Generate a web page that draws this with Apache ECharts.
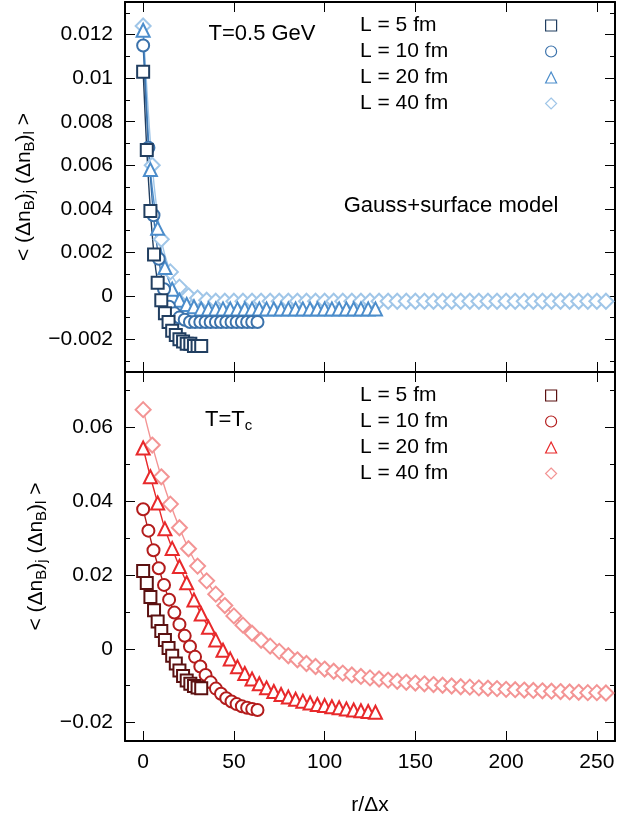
<!DOCTYPE html>
<html><head><meta charset="utf-8">
<script src="https://cdn.jsdelivr.net/npm/echarts@6/dist/echarts.min.js"></script>
<style>html,body{margin:0;padding:0;background:#fff}#c{width:618px;height:825px}</style>
</head><body><div id="c"></div>
<script>
// ---------- data ----------
const xL5  = [0,2,4,6,8,10,12,14,16,18,20,22,24,26,28,30,32];
const xL10 = [0,2.9,5.7,8.6,11.5,14.3,17.2,20,22.9,25.8,28.6,31.5,34.4,37.2,40.1,42.9,45.8,48.7,51.5,54.4,57.3,60.1,63];
const xL20 = [0,4,8,12,16,20,24,28,32,36,40,44,48,52,56,60,64,68,72,76,80,84,88,92,96,100,104,108,112,116,120,124,128];
const xL40 = [0,5,10,15,20,25,30,35,40,45,50,55,60,65,70,75,80,85,90,95,100,105,110,115,120,125,130,135,140,145,150,155,160,165,170,175,180,185,190,195,200,205,210,215,220,225,230,235,240,245,250,255];

// top panel: T = 0.5 GeV
const topL5  = [0.0103,0.0067,0.0039,0.0019,0.0006,-0.0002,-0.0008,-0.0012,-0.0016,-0.0018,-0.0020,-0.0021,-0.0022,-0.0022,-0.0023,-0.0023,-0.0023];
const topL10 = [0.0115,0.0068,0.0037,0.0017,0.0003,-0.0005,-0.0008,-0.0010,-0.0011,-0.0012,-0.0012,-0.0012,-0.0012,-0.0012,-0.0012,-0.0012,-0.0012,-0.0012,-0.0012,-0.0012,-0.0012,-0.0012,-0.0012];
const topL20 = [0.0122,0.0058,0.0031,0.0013,0.0003,-0.0002,-0.0004,-0.0005,-0.0006,-0.0006,-0.0006,-0.0006,-0.0006,-0.0006,-0.0006,-0.0006,-0.0006,-0.0006,-0.0006,-0.0006,-0.0006,-0.0006,-0.0006,-0.0006,-0.0006,-0.0006,-0.0006,-0.0006,-0.0006,-0.0006,-0.0006,-0.0006,-0.0006];
const topL40 = [0.0124,0.0060,0.0026,0.0011,0.0004,0.0000,-0.0001,-0.0002,-0.00025,-0.00025,-0.00025,-0.00025,-0.00025,-0.00025,-0.00025,-0.00025,-0.00025,-0.00025,-0.00025,-0.00025,-0.00025,-0.00025,-0.00025,-0.00025,-0.00025,-0.00025,-0.00025,-0.00025,-0.00025,-0.00025,-0.00025,-0.00025,-0.00025,-0.00025,-0.00025,-0.00025,-0.00025,-0.00025,-0.00025,-0.00025,-0.00025,-0.00025,-0.00025,-0.00025,-0.00025,-0.00025,-0.00025,-0.00025,-0.00025,-0.00025,-0.00025,-0.00025];

// bottom panel: T = Tc
const botL5  = [0.0211,0.0178,0.0140,0.0104,0.0074,0.0048,0.0024,0.0002,-0.0019,-0.0040,-0.0059,-0.0074,-0.0086,-0.0095,-0.0101,-0.0105,-0.0107];
const botL10 = [0.0378,0.0320,0.0267,0.0218,0.0173,0.0133,0.0098,0.0066,0.0035,0.0006,-0.0022,-0.0048,-0.0071,-0.0091,-0.0108,-0.0122,-0.0134,-0.0143,-0.0150,-0.0156,-0.0160,-0.0163,-0.0166];
const botL20 = [0.0544,0.0466,0.0395,0.0325,0.0272,0.0223,0.0179,0.0132,0.0094,0.0058,0.0024,-0.0004,-0.0028,-0.0049,-0.0067,-0.0082,-0.0095,-0.0106,-0.0116,-0.0124,-0.0131,-0.0137,-0.0142,-0.0147,-0.0151,-0.0154,-0.0157,-0.0160,-0.0163,-0.0166,-0.0168,-0.0170,-0.0172];
const botL40 = [0.0648,0.0552,0.0466,0.0392,0.0328,0.0271,0.0224,0.0184,0.0148,0.0117,0.0089,0.0064,0.0042,0.0023,0.0007,-0.0007,-0.0019,-0.0030,-0.0040,-0.0048,-0.0055,-0.0061,-0.0066,-0.0071,-0.0075,-0.0079,-0.0082,-0.0085,-0.0088,-0.0091,-0.0093,-0.0095,-0.0097,-0.0099,-0.0101,-0.0103,-0.0104,-0.0106,-0.0107,-0.0108,-0.0110,-0.0111,-0.0112,-0.0113,-0.0114,-0.0115,-0.0116,-0.0117,-0.0118,-0.0119,-0.0119,-0.0120];

// ticks / labels
const xTicks     = [0,50,100,150,200,250];
const topYTicks  = [-0.002,0,0.002,0.004,0.006,0.008,0.01,0.012];
const topYMinor  = [-0.003,-0.001,0.001,0.003,0.005,0.007,0.009,0.011,0.013];
const botYTicks  = [-0.02,0,0.02,0.04,0.06];
const botYMinor  = [-0.01,0.01,0.03,0.05,0.07];
const legendLabels = ['L = 5 fm','L = 10 fm','L = 20 fm','L = 40 fm'];
const xName = 'r/Δx';
const yName = '< (Δn{s|B}){s|j} (Δn{s|B}){s|l} >';
const topTitle = 'T=0.5 GeV';
const modelText = 'Gauss+surface model';
const botTitle = 'T=T{c|c}';

// ---------- style ----------
const FONT = '"Liberation Sans", Arial, Helvetica, sans-serif';
const FS = 21;
const topColors = ['#213e60','#3b72ab','#4c8dcb','#a0c6e8'];
const botColors = ['#5b1111','#b31c1c','#e8292b','#f39494'];
const symbols = ['emptyRect','emptyCircle','emptyTriangle','emptyDiamond'];
const legendIcons = ['rect','circle','triangle','diamond'];
const symbolSizes = [12,12,13,15];

const xs = [xL5, xL10, xL20, xL40];
const topYs = [topL5, topL10, topL20, topL40];
const botYs = [botL5, botL10, botL20, botL40];
const zip = (a, b) => a.map((v, i) => [v, b[i]]);
const fmt = v => (v < 0 ? '\u2212' + String(-v) : String(v));

function xAx(grid, pos, labels, extra) {
  return Object.assign({
    type: 'value', gridIndex: grid, position: pos, min: -10, max: 260,
    axisLine: {show: true, onZero: false, lineStyle: {color: '#000', width: 2}},
    axisTick: {show: true, inside: true, length: 10, customValues: xTicks, lineStyle: {color: '#000', width: 1}},
    axisLabel: {show: labels, customValues: xTicks, margin: 11, fontSize: FS, fontFamily: FONT, color: '#000'},
    splitLine: {show: false}
  }, extra || {});
}
function yAx(grid, pos, range, ticks, len, labels, line, extra) {
  return Object.assign({
    type: 'value', gridIndex: grid, position: pos, min: range[0], max: range[1],
    axisLine: {show: line, onZero: false, lineStyle: {color: '#000', width: 2}},
    axisTick: {show: true, inside: true, length: len, customValues: ticks, lineStyle: {color: '#000', width: 1}},
    axisLabel: {show: labels, customValues: ticks, margin: 12, fontSize: FS, fontFamily: FONT, color: '#000', formatter: fmt},
    splitLine: {show: false}
  }, extra || {});
}
const nameStyle = {
  fontSize: FS, fontFamily: FONT, color: '#000', lineHeight: 26,
  rich: {s: {fontSize: 15, fontFamily: FONT, color: '#000', lineHeight: 15, verticalAlign: 'bottom'}}
};
const topRange = [-0.0035, 0.0135];
const botRange = [-0.025, 0.075];

const xAxis = [
  xAx(0, 'bottom', false),
  xAx(0, 'top', false),
  xAx(1, 'bottom', true, {name: xName, nameLocation: 'middle', nameGap: 54,
     nameTextStyle: {fontSize: FS, fontFamily: FONT, color: '#000'}}),
  xAx(1, 'top', false)
];
const yAxis = [
  yAx(0, 'left', topRange, topYTicks, 10, true, true,
      {name: yName, nameLocation: 'middle', nameRotate: 90, nameGap: 72, nameTextStyle: nameStyle}),
  yAx(0, 'left', topRange, topYMinor, 5, false, false),
  yAx(0, 'right', topRange, topYTicks, 10, false, true),
  yAx(0, 'right', topRange, topYMinor, 5, false, false),
  yAx(1, 'left', botRange, botYTicks, 10, true, true,
      {name: yName, nameLocation: 'middle', nameRotate: 90, nameGap: 66, nameTextStyle: nameStyle}),
  yAx(1, 'left', botRange, botYMinor, 5, false, false),
  yAx(1, 'right', botRange, botYTicks, 10, false, true),
  yAx(1, 'right', botRange, botYMinor, 5, false, false)
];

const series = [];
[3,2,1,0].forEach(i => {
  series.push({
    type: 'line', name: 't' + i, xAxisIndex: 0, yAxisIndex: 0,
    data: zip(xs[i], topYs[i]), smooth: 0.3, symbol: symbols[i], symbolSize: symbolSizes[i],
    showAllSymbol: true, color: topColors[i],
    itemStyle: {color: topColors[i], borderWidth: 1.1},
    lineStyle: {width: 1.4, color: topColors[i]}, emphasis: {disabled: true}
  });
  series.push({
    type: 'line', name: 'b' + i, xAxisIndex: 2, yAxisIndex: 4,
    data: zip(xs[i], botYs[i]), smooth: 0.3, symbol: symbols[i], symbolSize: symbolSizes[i],
    showAllSymbol: true, color: botColors[i],
    itemStyle: {color: botColors[i], borderWidth: 1.1},
    lineStyle: {width: 1.4, color: botColors[i]}, emphasis: {disabled: true}
  });
});

const textStyleLeg = {fontSize: FS, lineHeight: 21, fontFamily: FONT, color: '#000'};
function legTexts(prefix, top) {
  return {
    orient: 'vertical', left: 355, top: top, padding: 0, itemGap: 5,
    itemWidth: 0, itemHeight: 11, selectedMode: false,
    data: [0,1,2,3].map(i => ({name: prefix + i, icon: 'rect', itemStyle: {opacity: 0}})),
    formatter: n => legendLabels[+n.slice(1)],
    textStyle: textStyleLeg
  };
}
function legIcons(prefix, top, colors) {
  return {
    orient: 'vertical', left: 545, top: top, padding: 0, itemGap: 5,
    itemWidth: 11, itemHeight: 11, selectedMode: false,
    data: [0,1,2,3].map(i => ({name: prefix + i, icon: legendIcons[i],
      itemStyle: {color: '#fff', borderColor: colors[i], borderWidth: 1.2}})),
    formatter: () => ' ',
    textStyle: textStyleLeg
  };
}

const option = {
  animation: false,
  backgroundColor: '#fff',
  grid: [
    {left: 125, right: 3, top: 2, height: 370},
    {left: 125, right: 3, top: 372, height: 369}
  ],
  xAxis: xAxis,
  yAxis: yAxis,
  legend: [
    legTexts('t', 15), legIcons('t', 15, topColors),
    legTexts('b', 385), legIcons('b', 385, botColors)
  ],
  graphic: [
    {type: 'text', x: 262, y: 34, style: {text: topTitle, fontSize: 22, fontFamily: FONT, fill: '#000', align: 'center', verticalAlign: 'middle'}},
    {type: 'text', x: 451, y: 206, style: {text: modelText, fontSize: 22, fontFamily: FONT, fill: '#000', align: 'center', verticalAlign: 'middle'}},
    {type: 'text', x: 205, y: 420, style: {text: botTitle, fontSize: 22, fontFamily: FONT, fill: '#000', align: 'left', verticalAlign: 'middle', lineHeight: 26,
      rich: {c: {fontSize: 15, fontFamily: FONT, fill: '#000', lineHeight: 15, verticalAlign: 'bottom'}}}}
  ],
  series: series
};
const chart = echarts.init(document.getElementById('c'), null, {renderer: 'canvas'});
chart.setOption(option);
</script>
</body></html>
